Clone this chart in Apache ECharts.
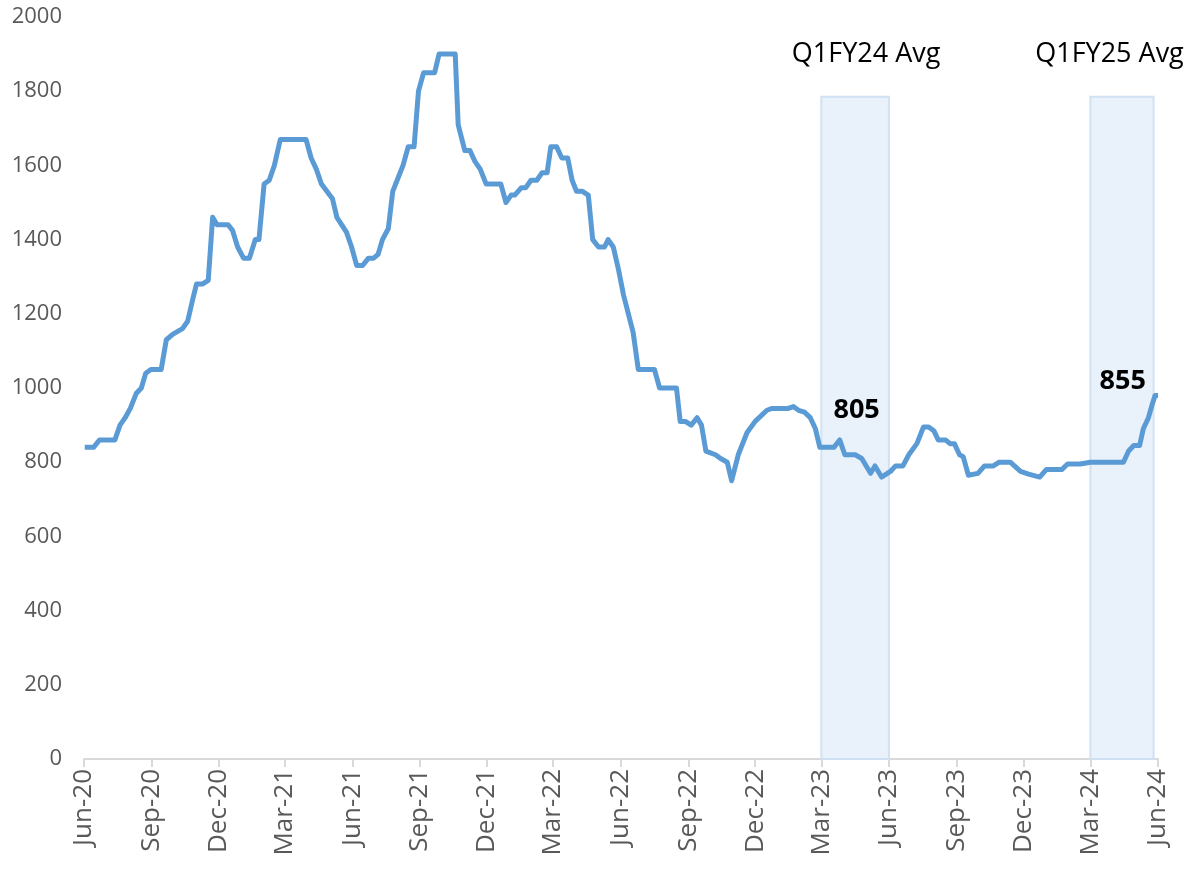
<!DOCTYPE html>
<html>
<head>
<meta charset="utf-8">
<script src="https://cdn.jsdelivr.net/npm/echarts@6/dist/echarts.min.js"></script>
<style>
html,body{margin:0;padding:0;background:#fff;}
#chart{width:1191px;height:876px;}
</style>
</head>
<body>
<div id="chart"></div>
<script>
// Day offsets from 1 Jun 2020 (vertices) and prices
const startDate = [2020, 5, 1];
const dayOffsets = [1,13,21,42,49,56,63,71,78,84,91,105,112,121,134,141,148,153,161,169,175,181,196,202,209,217,225,233,238,245,252,259,267,302,309,316,323,338,344,357,364,371,
379,387,394,400,406,414,420,428,434,441,449,455,462,477,483,505,509,518,525,532,539,547,567,574,581,586,595,601,608,616,623,630,635,643,650,658,664,670,678,686,692,700,708,713,720,727,734,747,754,
776,783,806,811,818,826,834,840,846,859,866,875,881,890,902,913,929,936,958,965,972,980,988,995,1001,1020,1028,1035,1049,1058,1070,1076,1085,1097,1104,1114,1122,1133,1142,1149,1156,1162,1172,1178,1184,1191,1196,1203,1216,1225,1237,1245,1260,1274,1285,1300,1309,1330,1338,1355,1369,1414,1421,1428,1436,1441,1448,1453,1457,1461];
const prices = [840,840,860,860,900,920,945,985,1000,1040,1050,1050,1130,1145,1160,1180,1240,1280,1280,1290,1460,1440,1440,1425,1380,1350,1350,1400,1400,1550,1560,1600,1670,1670,1620,1590,1550,1510,1460,1420,1380,1330,
1330,1350,1350,1360,1400,1430,1530,1570,1600,1650,1650,1800,1850,1850,1900,1900,1710,1640,1640,1610,1590,1550,1550,1500,1520,1520,1540,1540,1560,1560,1580,1580,1650,1650,1620,1620,1560,1530,1530,1520,1400,1380,1380,1400,1380,1320,1250,1150,1050,
1050,1000,1000,910,910,900,920,900,830,820,810,800,750,820,880,910,940,945,945,950,940,935,920,890,840,840,860,820,820,810,770,790,760,775,790,790,820,850,895,895,885,860,860,850,850,820,815,765,770,790,790,800,800,775,768,760,780,780,795,795,800,800,830,845,845,890,920,955,980,980];

const tickDates = [[2020,5],[2020,8],[2020,11],[2021,2],[2021,5],[2021,8],[2021,11],[2022,2],[2022,5],[2022,8],[2022,11],[2023,2],[2023,5],[2023,8],[2023,11],[2024,2],[2024,5]];
const tickLabels = ['Jun-20','Sep-20','Dec-20','Mar-21','Jun-21','Sep-21','Dec-21','Mar-22','Jun-22','Sep-22','Dec-22','Mar-23','Jun-23','Sep-23','Dec-23','Mar-24','Jun-24'];

// Shaded quarters
const bandStart = [[2023,2,1],[2024,2,1]];
const bandEnd = [[2023,5,1],[2024,4,26]];
const bandTop = 1785;
const bandTitles = ['Q1FY24 Avg','Q1FY25 Avg'];
const bandTitleDays = [1064,1395];
const bandTitleValue = 1900;
const avgLabels = ['805','855'];
const avgLabelDays = [1051,1413];
const avgLabelValues = [940,1019];

const DAY = 86400000;
const t0 = Date.UTC(startDate[0], startDate[1], startDate[2]);
function dateToDay(y, m, d){ return Math.round((Date.UTC(y, m, d) - t0) / DAY); }
const tickDays = tickDates.map(t => dateToDay(t[0], t[1], 1));

const seriesData = dayOffsets.map((d, i) => [d, prices[i]]);

const markAreaData = bandStart.map((s, i) => [
  { xAxis: dateToDay(s[0], s[1], s[2]), yAxis: 0 },
  { xAxis: dateToDay(bandEnd[i][0], bandEnd[i][1], bandEnd[i][2]), yAxis: bandTop }
]);

const markPointData = [];
bandTitles.forEach((t, i) => markPointData.push({
  coord: [bandTitleDays[i], bandTitleValue],
  label: { formatter: t, fontSize: 27, fontWeight: 'normal', color: '#000' }
}));
avgLabels.forEach((t, i) => markPointData.push({
  coord: [avgLabelDays[i], avgLabelValues[i]],
  label: { formatter: t, fontSize: 27, fontWeight: 'bold', color: '#000' }
}));

const chart = echarts.init(document.getElementById('chart'), null, { renderer: 'canvas' });
chart.setOption({
  animation: false,
  backgroundColor: '#fff',
  grid: { left: 84, right: 33, top: 17, bottom: 117, containLabel: false },
  xAxis: {
    type: 'value',
    min: tickDays[0],
    max: tickDays[tickDays.length - 1],
    splitLine: { show: false },
    axisLine: { show: true, lineStyle: { color: '#d9d9d9', width: 2 } },
    axisTick: { show: true, customValues: tickDays, length: 8, lineStyle: { color: '#d9d9d9', width: 2 } },
    axisLabel: {
      customValues: tickDays,
      rotate: 90,
      margin: 10,
      fontFamily: 'Open Sans',
      fontSize: 26,
      color: '#595959',
      showMinLabel: true,
      showMaxLabel: true,
      hideOverlap: false,
      formatter: function (v) {
        const idx = tickDays.indexOf(Math.round(v));
        return idx >= 0 ? tickLabels[idx] : '';
      }
    }
  },
  yAxis: {
    type: 'value',
    min: 0,
    max: 2000,
    interval: 200,
    splitLine: { show: false },
    axisLine: { show: false },
    axisTick: { show: false },
    axisLabel: { fontFamily: 'Open Sans', fontSize: 22, color: '#595959', margin: 22, formatter: function (v) { return String(v); } }
  },
  series: [{
    type: 'line',
    data: seriesData,
    showSymbol: false,
    symbol: 'none',
    lineStyle: { color: '#5b9bd5', width: 5, cap: 'butt', join: 'round' },
    itemStyle: { color: '#5b9bd5' },
    z: 2,
    markArea: {
      silent: true,
      itemStyle: { color: 'rgba(221,234,247,0.65)', borderColor: 'rgba(206,224,243,0.95)', borderWidth: 2 },
      label: { show: false },
      data: markAreaData
    },
    markPoint: {
      silent: true,
      symbol: 'circle',
      symbolSize: 1,
      itemStyle: { color: 'rgba(0,0,0,0)' },
      label: { show: true, position: 'inside', fontFamily: 'Open Sans' },
      data: markPointData
    }
  }]
});
</script>
</body>
</html>
